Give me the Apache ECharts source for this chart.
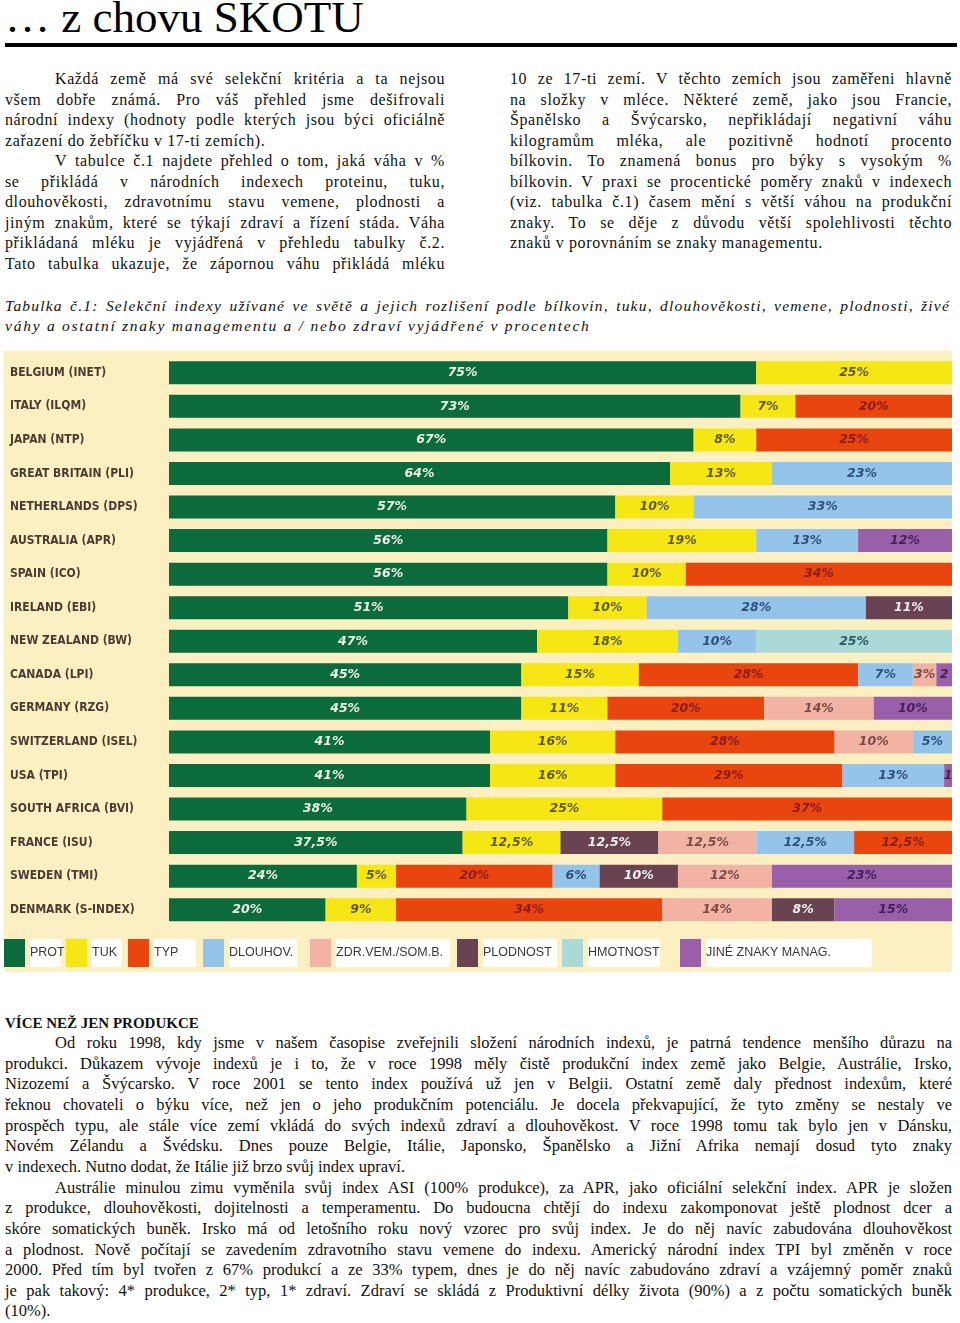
<!DOCTYPE html>
<html>
<head>
<meta charset="utf-8">
<script src="https://cdn.jsdelivr.net/npm/echarts@6/dist/echarts.min.js"></script>
<style>
html,body{margin:0;padding:0;background:#fff;}
#page{position:relative;width:960px;height:1323px;overflow:hidden;background:#fff;}
.ln{position:absolute;white-space:nowrap;overflow:visible;}
.j{text-align:justify;text-align-last:justify;white-space:normal;}
.top{font-family:"Liberation Serif",serif;font-size:16px;letter-spacing:0.6px;line-height:20px;color:#111;}
.bot{font-family:"Liberation Serif",serif;font-size:16.5px;line-height:20px;color:#111;}
.cap{font-family:"Liberation Serif",serif;font-style:italic;font-size:15.5px;letter-spacing:1.2px;line-height:20px;color:#111;}
#title{position:absolute;left:5px;top:-5px;font-family:"Liberation Serif",serif;font-size:45px;line-height:45px;color:#000;white-space:nowrap;}
#rule{position:absolute;left:5px;top:43px;width:952px;height:4px;background:#000;}
#chart{position:absolute;left:4px;top:351px;width:948px;height:621px;}
</style>
</head>
<body>
<div id="page">
<div id="title">… z chovu SKOTU</div>
<div id="rule"></div>
<div id="chart"></div>
</div>
<script>
// ---------- chart data ----------
const countries = ['BELGIUM (INET)','ITALY (ILQM)','JAPAN (NTP)','GREAT BRITAIN (PLI)','NETHERLANDS (DPS)','AUSTRALIA (APR)','SPAIN (ICO)','IRELAND (EBI)','NEW ZEALAND (BW)','CANADA (LPI)','GERMANY (RZG)','SWITZERLAND (ISEL)','USA (TPI)','SOUTH AFRICA (BVI)','FRANCE (ISU)','SWEDEN (TMI)','DENMARK (S-INDEX)'];
const criteria = ['PROT','TUK','TYP','DLOUHOV.','ZDR.VEM./SOM.B.','PLODNOST','HMOTNOST','JINÉ ZNAKY MANAG.'];
const rowCriteria = [
  ['PROT','TUK'],
  ['PROT','TUK','TYP'],
  ['PROT','TUK','TYP'],
  ['PROT','TUK','DLOUHOV.'],
  ['PROT','TUK','DLOUHOV.'],
  ['PROT','TUK','DLOUHOV.','JINÉ ZNAKY MANAG.'],
  ['PROT','TUK','TYP'],
  ['PROT','TUK','DLOUHOV.','PLODNOST'],
  ['PROT','TUK','DLOUHOV.','HMOTNOST'],
  ['PROT','TUK','TYP','DLOUHOV.','ZDR.VEM./SOM.B.','JINÉ ZNAKY MANAG.'],
  ['PROT','TUK','TYP','ZDR.VEM./SOM.B.','JINÉ ZNAKY MANAG.'],
  ['PROT','TUK','TYP','ZDR.VEM./SOM.B.','DLOUHOV.'],
  ['PROT','TUK','TYP','DLOUHOV.','JINÉ ZNAKY MANAG.'],
  ['PROT','TUK','TYP'],
  ['PROT','TUK','PLODNOST','ZDR.VEM./SOM.B.','DLOUHOV.','TYP'],
  ['PROT','TUK','TYP','DLOUHOV.','PLODNOST','ZDR.VEM./SOM.B.','JINÉ ZNAKY MANAG.'],
  ['PROT','TUK','TYP','ZDR.VEM./SOM.B.','PLODNOST','JINÉ ZNAKY MANAG.']
];
const rowValues = [
  [75,25],
  [73,7,20],
  [67,8,25],
  [64,13,23],
  [57,10,33],
  [56,19,13,12],
  [56,10,34],
  [51,10,28,11],
  [47,18,10,25],
  [45,15,28,7,3,2],
  [45,11,20,14,10],
  [41,16,28,10,5],
  [41,16,29,13,1],
  [38,25,37],
  [37.5,12.5,12.5,12.5,12.5,12.5],
  [24,5,20,6,10,12,23],
  [20,9,34,14,8,15]
];

// ---------- styles ----------
const critColor = {
  'PROT':'#0c6b3c','TUK':'#f6e614','TYP':'#e9450f','DLOUHOV.':'#94c4ea',
  'ZDR.VEM./SOM.B.':'#f2b3a5','PLODNOST':'#6a4352','HMOTNOST':'#aad9d8','JINÉ ZNAKY MANAG.':'#9a5fa9'
};
const critText = {
  'PROT':'#eef3e6','TUK':'#5e5a1c','TYP':'#8a1c16','DLOUHOV.':'#2f4f7e',
  'ZDR.VEM./SOM.B.':'#7a4b45','PLODNOST':'#f3eef0','HMOTNOST':'#2d5a66','JINÉ ZNAKY MANAG.':'#43205a'
};
// [left, text box width]
const legendPos = {
  'PROT':[0,30],'TUK':[62,28],'TYP':[124,40],'DLOUHOV.':[199,66],
  'ZDR.VEM./SOM.B.':[306,112],'PLODNOST':[453,72],'HMOTNOST':[558,70],'JINÉ ZNAKY MANAG.':[676,164]
};

const maxSlots = Math.max(...rowCriteria.map(r => r.length));
const series = [];
for (let k = 0; k < maxSlots; k++) {
  series.push({
    type:'bar', name:'slot'+k, stack:'total', barWidth:23, silent:true,
    label:{show:true, position:'inside', fontFamily:'DejaVu Sans', fontStyle:'italic', fontWeight:'bold', fontSize:12.5,
      formatter: p => {
        const v = p.value;
        if (v === '-' || v == null) return '';
        return v <= 2 ? String(v) : String(v).replace('.', ',') + '%';
      }},
    data: countries.map((c, i) => {
      const cr = rowCriteria[i][k];
      if (!cr) return '-';
      return {value: rowValues[i][k], itemStyle:{color: critColor[cr]}, label:{color: critText[cr]}};
    })
  });
}
criteria.forEach(cr => {
  series.push({type:'bar', name:cr, stack:'total', data:[], itemStyle:{color: critColor[cr]}});
});

const legends = criteria.map(cr => ({
  data:[cr], left: legendPos[cr][0], top: 588, icon:'rect', itemWidth:21, itemHeight:28, itemGap:0,
  selectedMode:false, padding:0,
  textStyle:{fontFamily:'Liberation Sans', fontSize:12.5, color:'#3a3a3a', backgroundColor:'#ffffff',
    padding:[7,2,7,0], width: legendPos[cr][1], lineHeight:14}
}));

const chart = echarts.init(document.getElementById('chart'));
chart.setOption({
  animation:false,
  backgroundColor:'#fcf0c3',
  legend: legends,
  grid:{left:165, right:0, top:5, height:570.5, containLabel:false},
  xAxis:{type:'value', min:0, max:100, show:false},
  yAxis:{type:'category', data:countries, inverse:true,
    axisLine:{show:false}, axisTick:{show:false}, splitLine:{show:false},
    axisLabel:{align:'left', margin:159, fontFamily:'"DejaVu Sans Condensed","Liberation Sans Narrow",sans-serif',
      fontWeight:'bold', fontSize:12, color:'#4a3c30'}},
  series: series
});

// ---------- page text ----------
const page = document.getElementById('page');
function addLine(cls, text, left, width, top, justify, indent, extra) {
  const d = document.createElement('div');
  d.className = 'ln ' + cls + (justify ? ' j' : '');
  d.style.left = (left + (indent||0)) + 'px';
  d.style.width = (width - (indent||0)) + 'px';
  d.style.top = top + 'px';
  if (extra) d.style.cssText += extra;
  d.textContent = text;
  page.appendChild(d);
}
const leftCol = [
  ['Každá země má své selekční kritéria a ta nejsou',1,50],
  ['všem dobře známá. Pro váš přehled jsme dešifrovali',1,0],
  ['národní indexy (hodnoty podle kterých jsou býci oficiálně',1,0],
  ['zařazení do žebříčku v 17-ti zemích).',0,0],
  ['V tabulce č.1 najdete přehled o tom, jaká váha v %',1,50],
  ['se přikládá v národních indexech proteinu, tuku,',1,0],
  ['dlouhověkosti, zdravotnímu stavu vemene, plodnosti a',1,0],
  ['jiným znakům, které se týkají zdraví a řízení stáda. Váha',1,0],
  ['přikládaná mléku je vyjádřená v přehledu tabulky č.2.',1,0],
  ['Tato tabulka ukazuje, že zápornou váhu přikládá mléku',1,0]
];
const rightCol = [
  ['10 ze 17-ti zemí. V těchto zemích jsou zaměřeni hlavně',1],
  ['na složky v mléce. Některé země, jako jsou Francie,',1],
  ['Španělsko a Švýcarsko, nepřikládají negativní váhu',1],
  ['kilogramům mléka, ale pozitivně hodnotí procento',1],
  ['bílkovin. To znamená bonus pro býky s vysokým %',1],
  ['bílkovin. V praxi se procentické poměry znaků v indexech',1],
  ['(viz. tabulka č.1) časem mění s větší váhou na produkční',1],
  ['znaky. To se děje z důvodu větší spolehlivosti těchto',1],
  ['znaků v porovnáním se znaky managementu.',0]
];
leftCol.forEach((l,i) => addLine('top', l[0], 5, 440, 69 + i*20.5, l[1], l[2]));
rightCol.forEach((l,i) => addLine('top', l[0], 510, 442, 69 + i*20.5, l[1], 0));

addLine('cap','Tabulka č.1: Selekční indexy užívané ve světě a jejich rozlišení podle bílkovin, tuku, dlouhověkosti, vemene, plodnosti, živé',5,945,296,1,0);
addLine('cap','váhy a ostatní znaky managementu a / nebo zdraví vyjádřené v procentech',5,945,316,0,0,'letter-spacing:1.75px;');

const head = document.createElement('div');
head.className = 'ln bot';
head.style.cssText = 'left:5px;top:1013px;font-weight:bold;font-size:15px;';
head.textContent = 'VÍCE NEŽ JEN PRODUKCE';
page.appendChild(head);

const bottom = [
  ['Od roku 1998, kdy jsme v našem časopise zveřejnili složení národních indexů, je patrná tendence menšího důrazu na',1,50],
  ['produkci. Důkazem vývoje indexů je i to, že v roce 1998 měly čistě produkční index země jako Belgie, Austrálie, Irsko,',1,0],
  ['Nizozemí a Švýcarsko. V roce 2001 se tento index používá už jen v Belgii. Ostatní země daly přednost indexům, které',1,0],
  ['řeknou chovateli o býku více, než jen o jeho produkčním potenciálu. Je docela překvapující, že tyto změny se nestaly ve',1,0],
  ['prospěch typu, ale stále více zemí vkládá do svých indexů zdraví a dlouhověkost. V roce 1998 tomu tak bylo jen v Dánsku,',1,0],
  ['Novém Zélandu a Švédsku. Dnes pouze Belgie, Itálie, Japonsko, Španělsko a Jižní Afrika nemají dosud tyto znaky',1,0],
  ['v indexech. Nutno dodat, že Itálie již brzo svůj index upraví.',0,0],
  ['Austrálie minulou zimu vyměnila svůj index ASI (100% produkce), za APR, jako oficiální selekční index. APR je složen',1,50],
  ['z produkce, dlouhověkosti, dojitelnosti a temperamentu. Do budoucna chtějí do indexu zakomponovat ještě plodnost dcer a',1,0],
  ['skóre somatických buněk. Irsko má od letošního roku nový vzorec pro svůj index. Je do něj navíc zabudována dlouhověkost',1,0],
  ['a plodnost. Nově počítají se zavedením zdravotního stavu vemene do indexu. Americký národní index TPI byl změněn v roce',1,0],
  ['2000. Před tím byl tvořen z 67% produkcí a ze 33% typem, dnes je do něj navíc zabudováno zdraví a vzájemný poměr znaků',1,0],
  ['je pak takový: 4* produkce, 2* typ, 1* zdraví. Zdraví se skládá z Produktivní délky života (90%) a z počtu somatických buněk',1,0],
  ['(10%).',0,0]
];
bottom.forEach((l,i) => addLine('bot', l[0], 5, 947, 1033 + i*20.65, l[1], l[2]));
</script>
</body>
</html>
